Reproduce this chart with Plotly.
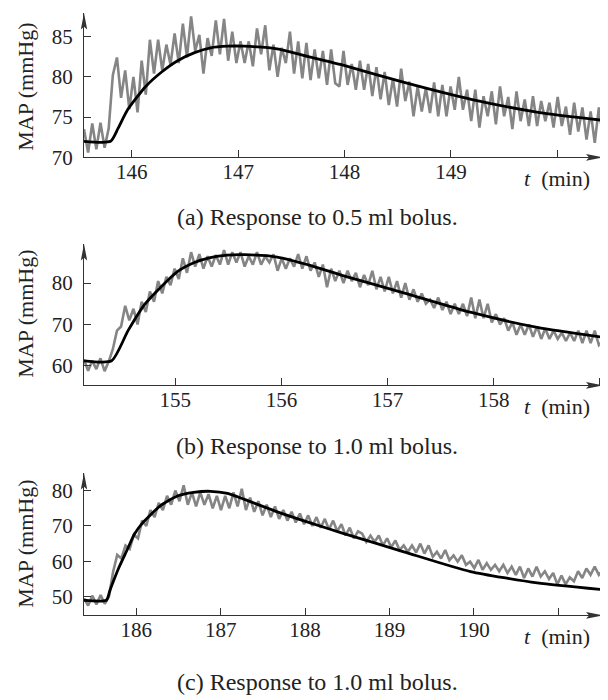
import numpy as np
import plotly.graph_objects as go

# ---------------- Panel (a): 0.5 ml bolus ----------------
a_t_range = [145.55, 150.43]
a_map = [73.5, 70.6, 74.2, 71.0, 74.3, 71.2, 73.6, 80.2, 82.4, 77.4,
         80.8, 76.0, 80.0, 75.6, 82.0, 77.8, 84.6, 80.4, 84.6, 80.8,
         84.0, 81.5, 85.4, 81.7, 86.6, 82.4, 87.5, 83.2, 85.2, 80.4,
         84.8, 82.6, 87.0, 82.8, 87.2, 82.0, 85.6, 81.7, 84.4, 81.7,
         84.4, 81.3, 86.0, 82.8, 86.4, 80.8, 84.0, 80.0, 83.6, 81.7,
         85.6, 80.4, 84.4, 79.8, 84.2, 79.6, 83.4, 79.8, 83.2, 79.0,
         83.4, 79.2, 78.8, 83.2, 79.0, 81.6, 78.4, 82.0, 78.4, 81.6,
         77.6, 81.2, 77.2, 80.6, 76.5, 79.8, 76.3, 81.0, 77.0, 79.4,
         75.1, 78.8, 75.7, 78.6, 75.5, 79.3, 75.1, 79.0, 75.1, 78.8,
         75.9, 80.0, 75.9, 78.4, 74.5, 78.4, 73.7, 77.6, 75.1, 78.2,
         74.1, 78.8, 75.1, 77.5, 73.5, 78.2, 74.5, 77.2, 73.9, 77.6,
         73.9, 77.0, 74.5, 76.8, 73.7, 77.5, 73.9, 76.3, 72.8, 76.8,
         73.2, 76.2, 72.2, 75.7, 71.8, 76.2, 72.4]
a_fit_t = [145.55, 145.80, 145.87, 145.96, 146.13, 146.28, 146.43, 146.59,
           146.74, 146.90, 147.05, 147.38, 147.69, 147.97, 148.56, 149.19,
           149.82, 150.43]
a_fit_v = [72.0, 72.0, 73.6, 75.9, 78.8, 80.6, 82.0, 83.0,
           83.6, 83.8, 83.8, 83.45, 82.4, 81.5, 79.3, 77.2,
           75.6, 74.6]
a_yrange = [70, 87.93]
a_yticks = [70, 75, 80, 85]
a_xticks = [146, 147, 148, 149, 150]
a_xticklabels = ["146", "147", "148", "149", ""]

# ---------------- Panel (b): 1.0 ml bolus ----------------
b_t_range = [154.14, 159.03]
b_map = [61.5, 58.8, 61.2, 59.2, 61.8, 58.7, 61.0, 64.0, 68.5, 69.5,
         74.5, 71.0, 73.8, 70.0, 75.5, 73.0, 78.0, 75.5, 80.5, 77.5,
         81.5, 79.5, 83.5, 81.0, 86.0, 82.5, 87.5, 84.0, 87.0, 83.5,
         86.5, 84.0, 86.8, 84.5, 88.0, 84.5, 87.5, 85.0, 87.5, 84.0,
         86.5, 84.5, 87.5, 84.5, 86.5, 85.0, 87.0, 83.0, 86.0, 83.5,
         86.0, 84.0, 87.0, 83.5, 86.5, 83.0, 85.0, 81.5, 84.5, 79.0,
         83.5, 80.5, 83.0, 80.0, 83.0, 80.5, 82.5, 79.0, 82.0, 79.5,
         83.0, 78.5, 81.5, 78.0, 81.5, 77.5, 80.5, 76.5, 80.0, 76.0,
         78.5, 75.5, 77.5, 75.0, 76.0, 74.0, 76.5, 73.5, 75.5, 72.5,
         75.0, 72.5, 75.0, 72.0, 76.5, 71.5, 76.0, 71.5, 75.0, 70.5,
         72.5, 70.0, 71.5, 68.5, 70.5, 67.5, 70.0, 67.5, 70.0, 67.0,
         69.5, 66.5, 69.0, 66.5, 68.5, 66.5, 68.0, 66.0, 68.0, 66.0,
         68.5, 65.5, 68.5, 65.5, 68.5, 65.0, 66.0]
b_fit_t = [154.14, 154.40, 154.555, 154.71, 154.87, 155.02, 155.18, 155.33,
           155.49, 155.65, 155.96, 156.27, 156.57, 157.16, 157.79, 158.41,
           159.03]
b_fit_v = [61.2, 61.2, 68.5, 74.8, 79.2, 82.8, 85.0, 86.2,
           86.8, 86.9, 86.3, 84.3, 81.9, 77.6, 72.9, 69.3,
           66.9]
b_yrange = [55.24, 89.5]
b_yticks = [60, 70, 80]
b_xticks = [155, 156, 157, 158, 159]
b_xticklabels = ["155", "156", "157", "158", ""]

# ---------------- Panel (c): 1.0 ml bolus ----------------
c_t_range = [185.38, 191.53]
c_map = [49.5, 47.5, 50.3, 47.8, 50.5, 48.0, 50.0, 57.0, 61.8, 60.8,
         64.5, 63.5, 67.5, 66.5, 71.5, 70.0, 74.5, 72.5, 76.5, 74.5,
         78.5, 76.0, 80.0, 77.0, 81.5, 76.0, 79.5, 75.5, 79.5, 76.0,
         79.0, 75.0, 78.5, 74.5, 78.5, 75.0, 79.5, 75.5, 80.5, 74.5,
         78.0, 74.0, 77.0, 73.0, 76.0, 72.5, 75.5, 72.0, 74.5, 71.5,
         74.0, 71.0, 73.5, 70.5, 73.0, 70.0, 72.5, 69.5, 72.0, 69.0,
         71.5, 68.5, 70.5, 67.3, 69.5, 66.5, 68.5, 67.8, 65.5, 67.3,
         65.5, 67.3, 64.5, 66.5, 64.0, 65.9, 63.2, 64.5, 62.7, 64.5,
         62.5, 65.0, 62.2, 64.5, 61.3, 62.7, 60.8, 63.2, 60.3, 61.7,
         59.9, 61.7, 59.0, 59.9, 58.1, 60.4, 57.6, 59.5, 57.6, 59.0,
         57.2, 59.0, 56.7, 58.5, 56.2, 58.5, 55.3, 58.0, 55.7, 58.5,
         55.7, 57.2, 55.0, 56.7, 53.5, 56.0, 53.5, 55.5, 54.4, 57.2,
         55.3, 58.0, 56.2, 58.5, 56.2, 57.6]
c_fit_t = [185.38, 185.644, 185.69, 185.79, 185.89, 185.98, 186.08, 186.28,
           186.48, 186.68, 186.88, 187.08, 187.28, 187.67, 188.07, 188.44,
           189.17, 189.96, 190.75, 191.52]
c_fit_v = [49.0, 49.0, 52.0, 58.06, 63.2, 67.8, 71.0, 75.6,
           78.4, 79.5, 79.8, 79.2, 77.5, 74.0, 70.8, 68.0,
           62.7, 57.1, 53.9, 52.0]
c_yrange = [44.72, 85.0]
c_yticks = [50, 60, 70, 80]
c_xticks = [186, 187, 188, 189, 190, 191]
c_xticklabels = ["186", "187", "188", "189", "190", ""]

captions = ["(a) Response to 0.5 ml bolus.",
            "(b) Response to 1.0 ml bolus.",
            "(c) Response to 1.0 ml bolus."]
y_title = "MAP (mmHg)"
x_title = "<i>t</i>  (min)"

# ---------------- layout geometry (pixels) ----------------
W, H = 608, 700
X0, X1 = 76, 595
panels = [
    dict(t=a_t_range, v=a_map, ft=a_fit_t, fv=a_fit_v, yr=a_yrange, yt=a_yticks,
         xt=a_xticks, xl=a_xticklabels, top=5, bot=152, cap=213, ytc=80),
    dict(t=b_t_range, v=b_map, ft=b_fit_t, fv=b_fit_v, yr=b_yrange, yt=b_yticks,
         xt=b_xticks, xl=b_xticklabels, top=240, bot=384, cap=446, ytc=311),
    dict(t=c_t_range, v=c_map, ft=c_fit_t, fv=c_fit_v, yr=c_yrange, yt=c_yticks,
         xt=c_xticks, xl=c_xticklabels, top=473, bot=618, cap=686, ytc=545),
]

FONT = "Liberation Serif"
AX = "#333333"
TXT = "#222222"


def px(x):
    return x / W


def py(y):
    return 1 - y / H


def tri(points):
    return "M " + " L ".join(f"{px(a):.5f},{py(b):.5f}" for a, b in points) + " Z"


fig = go.Figure()
annotations = []
shapes = []
layout = dict(width=W, height=H, margin=dict(l=0, r=0, t=0, b=0),
              paper_bgcolor="white", plot_bgcolor="white", showlegend=False,
              font=dict(family=FONT, color=TXT, size=21))

for k, p in enumerate(panels, start=1):
    xa = "x" if k == 1 else f"x{k}"
    ya = "y" if k == 1 else f"y{k}"
    tt = np.linspace(p["t"][0], p["t"][1], len(p["v"]))
    fig.add_trace(go.Scatter(x=tt, y=p["v"], mode="lines", xaxis=xa, yaxis=ya,
                             line=dict(color="#858585", width=2.6), hoverinfo="skip"))
    fig.add_trace(go.Scatter(x=p["ft"], y=p["fv"], mode="lines", xaxis=xa, yaxis=ya,
                             line=dict(color="black", width=2.8, shape="spline", smoothing=0.6),
                             hoverinfo="skip"))
    common = dict(showgrid=False, zeroline=False, showline=True, linecolor=AX, linewidth=1.3,
                  ticks="inside", ticklen=7, tickwidth=1.3, tickcolor=AX,
                  tickfont=dict(family=FONT, size=21, color=TXT))
    layout["xaxis" if k == 1 else f"xaxis{k}"] = dict(
        common, domain=[X0 / W, X1 / W], range=p["t"], anchor=ya,
        tickmode="array", tickvals=p["xt"], ticktext=p["xl"], ticklabelstandoff=-5)
    layout["yaxis" if k == 1 else f"yaxis{k}"] = dict(
        common, domain=[1 - p["bot"] / H, 1 - p["top"] / H], range=p["yr"], anchor=xa,
        tickmode="array", tickvals=p["yt"], ticklabelstandoff=6)
    # arrowheads at the axis ends (paper coordinates, not clipped)
    b, t = p["bot"], p["top"]
    shapes.append(dict(type="path", xref="paper", yref="paper", layer="above",
                       path=tri([(X1 - 17, b - 3.5), (X1, b), (X1 - 17, b + 3.5), (X1 - 14, b)]),
                       fillcolor=AX, line=dict(width=0)))
    shapes.append(dict(type="path", xref="paper", yref="paper", layer="above",
                       path=tri([(X0 - 3.2, t + 17), (X0, t), (X0 + 3.2, t + 17), (X0, t + 14)]),
                       fillcolor=AX, line=dict(width=0)))
    annotations.append(dict(text=x_title, xref="paper", yref="paper", x=549 / W,
                            y=1 - (b + 21) / H, showarrow=False,
                            font=dict(family=FONT, size=22, color=TXT),
                            xanchor="center", yanchor="middle"))
    annotations.append(dict(text=y_title, xref="paper", yref="paper", x=18 / W,
                            y=1 - p["ytc"] / H, showarrow=False, textangle=-90,
                            font=dict(family=FONT, size=22, color=TXT),
                            xanchor="center", yanchor="middle"))
    annotations.append(dict(text=captions[k - 1], xref="paper", yref="paper", x=309 / W,
                            y=1 - p["cap"] / H, showarrow=False,
                            font=dict(family=FONT, size=24, color=TXT),
                            xanchor="center", yanchor="middle"))

layout["annotations"] = annotations
layout["shapes"] = shapes
fig.update_layout(**layout)
fig.write_html("out.html")
